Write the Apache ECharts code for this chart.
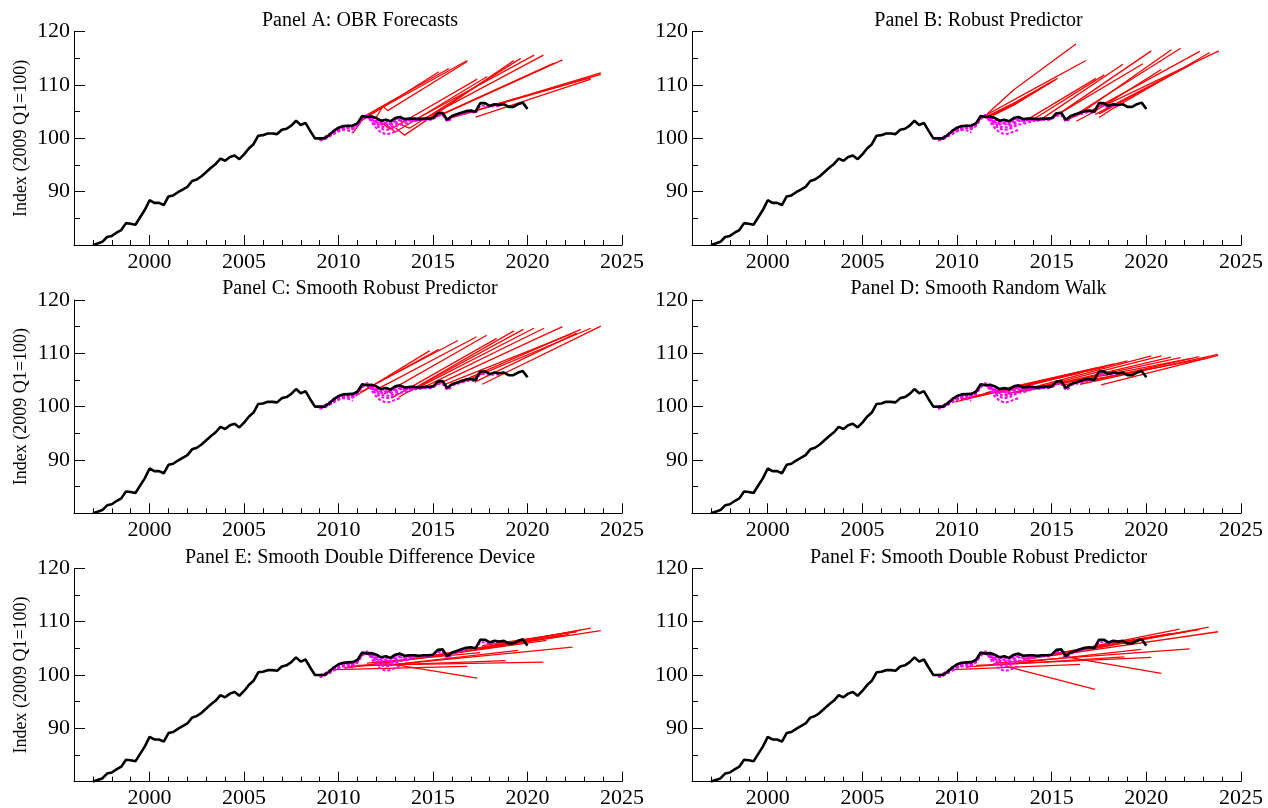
<!DOCTYPE html>
<html>
<head>
<meta charset="utf-8">
<title>Forecast panels</title>
<script src="https://cdn.jsdelivr.net/npm/echarts@6.0.0/dist/echarts.min.js"></script>
<style>
  html, body { margin: 0; padding: 0; background: #fff; }
  #chart { width: 1268px; height: 808px; }
</style>
</head>
<body>
<div id="chart"></div>
<script>
// 季度实际值 1997Q1 - 2020Q1
const actualStart = 1997;
const actual = [
  80.0, 80.3, 80.6, 81.5,
  81.7, 82.3, 82.8, 84.1,
  84.0, 83.8, 85.2, 86.6,
  88.4, 87.9, 87.9, 87.5,
  89.1, 89.3, 89.9, 90.4,
  90.9, 92.0, 92.3, 92.9,
  93.7, 94.5, 95.2, 96.2,
  95.8, 96.5, 96.8, 96.1,
  97.0, 98.1, 98.9, 100.5,
  100.6, 100.9, 100.9, 100.8,
  101.6, 101.8, 102.4, 103.3,
  102.5, 102.9, 101.4, 100.0,
  100.0, 100.0, 100.6, 101.4,
  102.0, 102.3, 102.35, 102.4,
  102.8, 104.2, 104.0, 104.1,
  103.8, 103.3, 103.5, 103.2,
  103.8, 104.0, 103.6, 103.7,
  103.7, 103.6, 103.7, 103.7,
  103.8, 104.7, 104.8, 103.5,
  104.2, 104.5, 104.8, 105.1,
  105.2, 105.0, 106.6, 106.6,
  106.1, 106.4, 106.25, 106.4,
  105.9, 105.9, 106.4, 106.7,
  105.5
];

// 早期数据版本 (从 2009Q1 开始的季度值)
const vintageStart = 2009;
const vintage1 = [99.6, 99.8, 100.3, 100.8, 101.3, 101.6, 101.5, 101.1];
const vintage2 = [99.7, 99.9, 100.4, 101.0, 101.5, 101.8, 101.9, 101.7, 102.4, 103.6, 104.4, 104.0, 103.8];
const vintage3 = [99.7, 100.0, 100.5, 101.1, 101.6, 101.9, 102.0, 101.9, 102.6, 103.8, 104.4, 103.0, 101.9, 101.1, 100.8, 100.9, 101.3, 101.6];
const vintage4 = [99.8, 100.1, 100.6, 101.2, 101.7, 102.0, 102.1, 102.0, 102.7, 103.9, 104.3, 103.3, 102.4, 101.8, 101.6, 101.7, 102.2, 102.6, 102.7, 103.0, 103.2, 103.4];
const vintage5 = [99.9, 100.2, 100.8, 101.4, 101.8, 102.1, 102.3, 102.2, 102.9, 104.0, 104.1, 103.5, 103.0, 102.6, 102.7, 102.5, 103.0, 103.3, 103.1, 103.3, 103.4, 103.3, 103.5, 103.4, 103.6, 104.2, 104.4, 103.1, 103.7];
const vintage6 = [100.0, 100.1, 100.7, 101.3, 101.9, 102.2, 102.3, 102.3, 102.8, 104.1, 103.9, 103.9, 103.5, 103.1, 103.3, 103.0, 103.6, 103.8, 103.4, 103.6, 103.5, 103.4, 103.6, 103.6, 103.7, 104.4, 104.6, 103.3, 104.0, 104.2, 104.5, 104.7, 105.0, 104.7, 106.2, 106.1, 105.8, 106.1, 106.0];
const vintage7 = [99.8, 100.2, 100.6, 101.5, 101.7, 102.0, 102.4, 102.1, 102.5, 103.9, 104.2, 103.7, 103.2, 102.8, 102.9, 102.7, 103.3, 103.5, 103.2, 103.5, 103.4, 103.5, 103.4];
const vintage8 = [99.6, 100.0, 100.5, 101.2, 101.4, 101.7, 102.1, 101.8, 102.3, 103.7, 104.3, 103.6, 102.8, 102.2, 102.1, 102.0, 102.6, 103.0];
const vintages = [vintage1, vintage2, vintage3, vintage4, vintage5, vintage6, vintage7, vintage8];

// 各面板预测线: [年, 值, 年, 值, ...]
const fcA = [
  [2010.75, 101.0, 2011.25, 103.4, 2015.31, 112.5],
  [2011.0, 102.6, 2011.5, 104.4, 2015.84, 113.1],
  [2011.5, 104.2, 2016.81, 114.6],
  [2012.0, 104.0, 2012.35, 106.0, 2012.6, 105.2, 2016.81, 114.4],
  [2012.25, 103.0, 2012.75, 101.7, 2017.34, 111.1],
  [2012.5, 102.7, 2013.0, 101.2, 2017.87, 111.6],
  [2013.0, 102.0, 2013.5, 100.6, 2019.28, 114.6],
  [2013.25, 102.6, 2013.75, 101.9, 2019.64, 115.0],
  [2014.0, 103.4, 2020.35, 115.6],
  [2014.5, 103.6, 2020.84, 115.6],
  [2015.0, 103.8, 2021.4, 114.1],
  [2015.5, 104.5, 2021.85, 114.7],
  [2015.9, 103.8, 2023.35, 111.4],
  [2016.5, 104.4, 2023.88, 112.3],
  [2017.25, 104.0, 2023.35, 111.1],
  [2017.75, 105.8, 2023.88, 112.0]
];
const fcB = [
  [2011.6, 104.6, 2013.0, 109.1, 2016.28, 117.7],
  [2011.45, 104.2, 2013.5, 108.2, 2016.81, 114.6],
  [2011.5, 104.0, 2013.0, 106.6, 2015.31, 111.25],
  [2011.6, 104.1, 2013.0, 106.5, 2015.2, 111.0],
  [2011.7, 104.2, 2013.0, 106.4, 2015.1, 110.8],
  [2011.8, 104.3, 2013.0, 106.3, 2014.95, 110.5],
  [2011.9, 104.3, 2013.0, 106.2, 2014.8, 110.2],
  [2013.75, 103.6, 2017.34, 111.25],
  [2014.0, 103.5, 2017.78, 111.9],
  [2014.5, 103.7, 2018.76, 113.9],
  [2015.0, 103.8, 2019.82, 114.0],
  [2015.3, 104.4, 2020.26, 116.4],
  [2015.8, 103.4, 2016.5, 104.6, 2021.32, 116.6],
  [2016.1, 104.1, 2021.81, 116.9],
  [2016.3, 103.2, 2017.2, 104.9, 2020.79, 112.9],
  [2017.0, 105.0, 2022.82, 116.3],
  [2017.5, 103.9, 2018.2, 105.5, 2023.35, 116.1],
  [2017.75, 106.1, 2023.83, 116.4],
  [2017.3, 104.5, 2022.29, 113.75],
  [2017.5, 104.6, 2022.5, 114.1]
];
const fcC = [
  [2010.9, 102.0, 2014.83, 110.5],
  [2011.2, 102.8, 2015.31, 110.75],
  [2011.5, 103.4, 2016.32, 112.4],
  [2012.0, 103.2, 2017.31, 113.1],
  [2012.4, 102.4, 2017.84, 113.4],
  [2012.8, 101.6, 2018.37, 112.8],
  [2013.2, 101.8, 2019.28, 114.2],
  [2013.6, 102.6, 2019.78, 114.5],
  [2014.0, 103.2, 2020.34, 114.7],
  [2014.5, 103.6, 2020.87, 114.7],
  [2015.0, 103.8, 2021.85, 115.0],
  [2015.5, 104.0, 2022.29, 113.6],
  [2016.0, 104.0, 2022.82, 114.5],
  [2016.5, 104.5, 2023.35, 114.7],
  [2017.2, 104.6, 2022.6, 113.8],
  [2017.6, 104.2, 2023.88, 115.1]
];
const fcD = [
  [2009.9, 100.9, 2016.0, 106.0],
  [2010.2, 101.3, 2016.5, 106.3],
  [2010.5, 101.6, 2017.34, 107.2],
  [2011.0, 102.0, 2017.78, 107.4],
  [2011.5, 102.6, 2018.3, 108.0],
  [2012.0, 102.4, 2019.0, 108.6],
  [2012.5, 102.2, 2020.26, 109.5],
  [2013.0, 102.5, 2020.79, 109.5],
  [2013.5, 102.8, 2021.3, 109.3],
  [2014.0, 103.3, 2021.81, 109.2],
  [2014.5, 103.6, 2022.3, 109.0],
  [2015.5, 104.0, 2023.26, 109.1],
  [2016.5, 104.2, 2023.79, 109.8],
  [2017.3, 105.0, 2022.8, 109.4],
  [2017.61, 104.1, 2023.79, 109.6]
];
const fcE = [
  [2009.8, 101.0, 2016.81, 101.6],
  [2010.5, 101.6, 2018.84, 102.7],
  [2011.0, 101.8, 2020.84, 102.4],
  [2012.0, 102.5, 2017.34, 99.4],
  [2012.5, 101.8, 2022.38, 105.2],
  [2010.3, 101.3, 2016.0, 103.9],
  [2011.5, 102.2, 2017.5, 104.2],
  [2013.0, 102.0, 2019.5, 104.6],
  [2013.5, 102.8, 2021.0, 106.5],
  [2014.0, 103.1, 2021.8, 107.4],
  [2015.0, 103.6, 2022.82, 108.4],
  [2016.0, 104.0, 2023.35, 108.8],
  [2017.0, 104.6, 2023.88, 108.3],
  [2017.3, 104.8, 2022.2, 107.6],
  [2017.6, 105.5, 2022.6, 108.1]
];
const fcF = [
  [2012.6, 101.6, 2017.29, 97.3],
  [2015.6, 103.5, 2020.79, 100.3],
  [2009.8, 101.0, 2016.5, 102.0],
  [2010.5, 101.5, 2018.84, 103.4],
  [2011.0, 101.8, 2020.26, 103.3],
  [2012.0, 102.2, 2022.29, 104.9],
  [2012.5, 102.0, 2019.73, 104.8],
  [2013.5, 102.9, 2021.32, 107.8],
  [2014.0, 103.1, 2021.76, 108.6],
  [2015.0, 103.6, 2023.30, 108.95],
  [2016.0, 104.1, 2023.79, 108.1],
  [2017.0, 104.8, 2022.3, 108.2],
  [2017.5, 105.6, 2022.8, 108.5]
];

const panelTitles = [
  'Panel A: OBR Forecasts',
  'Panel B: Robust Predictor',
  'Panel C: Smooth Robust Predictor',
  'Panel D: Smooth Random Walk',
  'Panel E: Smooth Double Difference Device',
  'Panel F: Smooth Double Robust Predictor'
];
const panelForecasts = [fcA, fcB, fcC, fcD, fcE, fcF];

const yLabel = 'Index (2009 Q1=100)';
const yMajorTicks = [90, 100, 110, 120];
const yMinorTicks = [85, 95, 105, 115];
const xMajorTicks = [2000, 2005, 2010, 2015, 2020, 2025];
const xMinorTicks = [1997, 1998, 1999, 2001, 2002, 2003, 2004, 2006, 2007, 2008, 2009,
  2011, 2012, 2013, 2014, 2016, 2017, 2018, 2019, 2021, 2022, 2023, 2024];

// 布局
const FONT = 'Liberation Serif';
const colLeft = [74, 692];
const colWidth = [548, 549];
const rowTop = [31.7, 300, 568.3];
const plotH = 213.3;

function quarterly(start, values) {
  return values.map((v, i) => [start + i / 4, v]);
}
function toPairs(flat) {
  let out = [];
  for (let i = 0; i < flat.length; i += 2) out.push([flat[i], flat[i + 1]]);
  return out;
}

const grids = [], xAxes = [], yAxes = [], titles = [], series = [];

panelTitles.forEach((name, p) => {
  const col = p % 2, row = Math.floor(p / 2);
  grids.push({
    left: colLeft[col], top: rowTop[row], width: colWidth[col], height: plotH,
    outerBoundsMode: 'none', containLabel: false
  });
  titles.push({
    text: name,
    left: colLeft[col] + colWidth[col] / 2 + 12,
    top: rowTop[row] - 21,
    textAlign: 'center',
    padding: 0,
    textStyle: { fontFamily: FONT, fontSize: 20, fontWeight: 'normal', color: '#000' }
  });

  const xi = xAxes.length, yi = yAxes.length;
  // 主刻度 + 标签
  xAxes.push({
    gridIndex: p, type: 'value', min: 1996, max: 2025, position: 'bottom',
    axisLine: { show: true, lineStyle: { color: '#000', width: 1 } },
    axisTick: { show: true, inside: true, length: 10, customValues: xMajorTicks, lineStyle: { color: '#000' } },
    axisLabel: {
      show: true, customValues: xMajorTicks, margin: 6,
      fontFamily: FONT, fontSize: 22, color: '#000',
      formatter: v => String(v)
    },
    splitLine: { show: false }
  });
  // 次刻度
  xAxes.push({
    gridIndex: p, type: 'value', min: 1996, max: 2025, position: 'bottom',
    axisLine: { show: false },
    axisTick: { show: true, inside: true, length: 5, customValues: xMinorTicks, lineStyle: { color: '#000' } },
    axisLabel: { show: false },
    splitLine: { show: false }
  });
  yAxes.push({
    gridIndex: p, type: 'value', min: 80, max: 120, position: 'left',
    name: col === 0 ? yLabel : '',
    nameLocation: 'middle', nameRotate: 90, nameGap: 44,
    nameTextStyle: { fontFamily: FONT, fontSize: 18, color: '#000' },
    axisLine: { show: true, lineStyle: { color: '#000', width: 1 } },
    axisTick: { show: true, inside: true, length: 11, customValues: yMajorTicks, lineStyle: { color: '#000' } },
    axisLabel: { show: true, customValues: yMajorTicks, margin: 4, fontFamily: FONT, fontSize: 22, color: '#000' },
    splitLine: { show: false }
  });
  yAxes.push({
    gridIndex: p, type: 'value', min: 80, max: 120, position: 'left',
    axisLine: { show: false },
    axisTick: { show: true, inside: true, length: 6, customValues: yMinorTicks, lineStyle: { color: '#000' } },
    axisLabel: { show: false },
    splitLine: { show: false }
  });

  const base = { type: 'line', xAxisIndex: xi, yAxisIndex: yi, symbol: 'none', silent: true, animation: false };

  panelForecasts[p].forEach(fc => {
    series.push(Object.assign({}, base, {
      data: toPairs(fc), z: 2,
      lineStyle: { color: '#ff0000', width: 1.3 }
    }));
  });
  vintages.forEach(v => {
    series.push(Object.assign({}, base, {
      data: quarterly(vintageStart, v), z: 3,
      lineStyle: { color: '#ff00ff', width: 2, type: [3, 2] }
    }));
  });
  series.push(Object.assign({}, base, {
    data: quarterly(actualStart, actual), z: 4,
    lineStyle: { color: '#000', width: 2.6 }
  }));
});

const myChart = echarts.init(document.getElementById('chart'), null, { renderer: 'canvas' });
const option = {
  backgroundColor: '#fff',
  animation: false,
  title: titles,
  grid: grids,
  xAxis: xAxes,
  yAxis: yAxes,
  series: series
};
option && myChart.setOption(option);
</script>
</body>
</html>
